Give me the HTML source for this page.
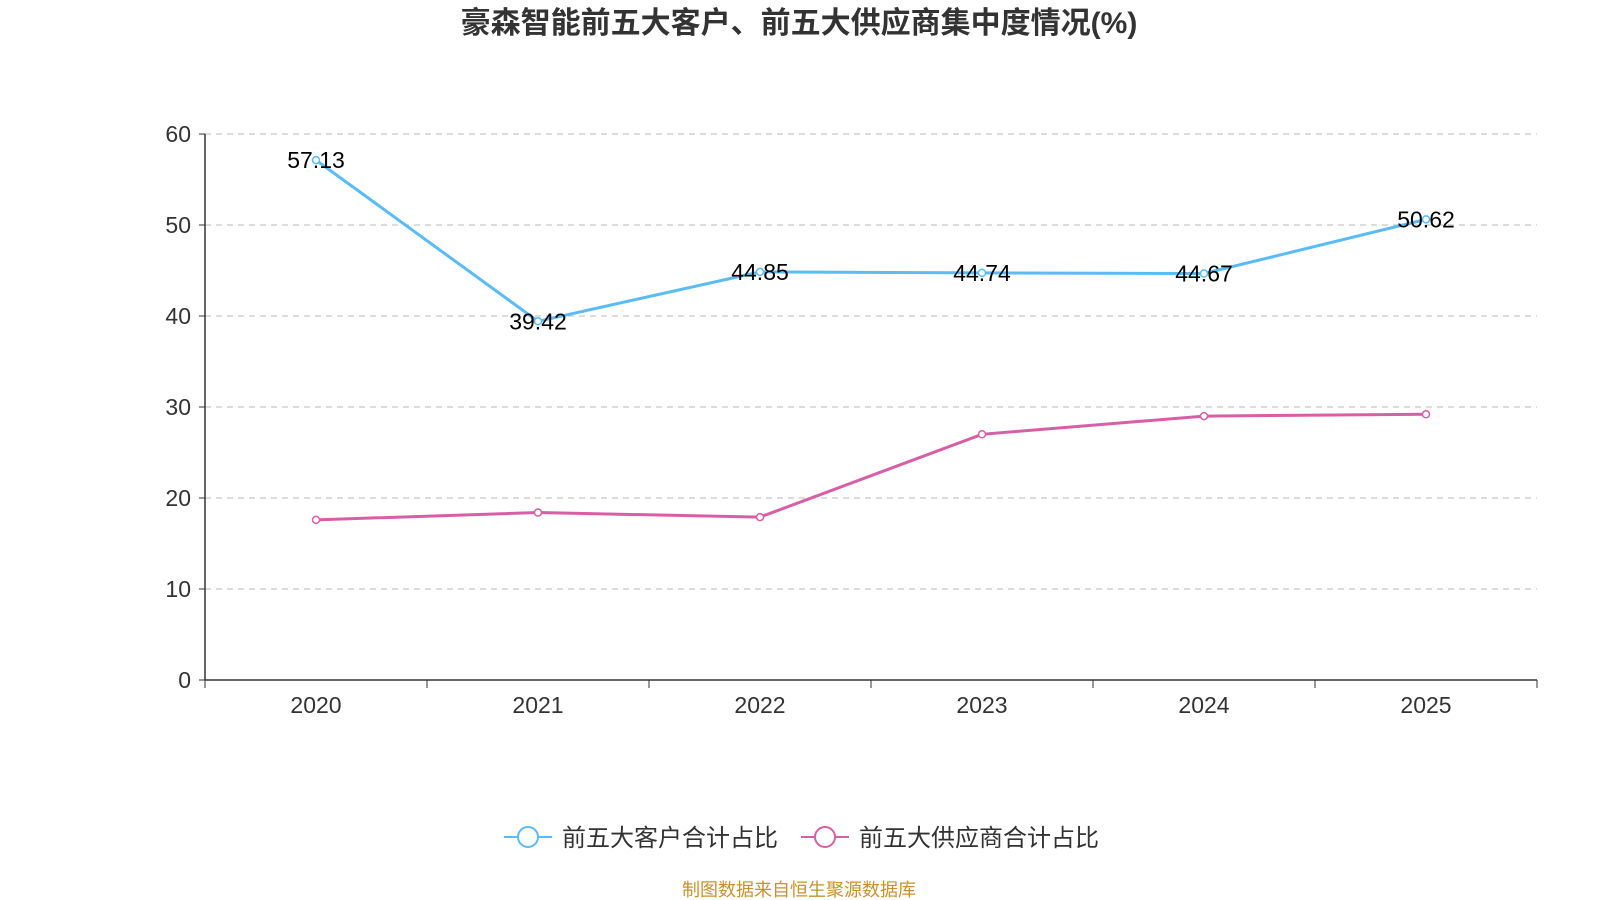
<!DOCTYPE html>
<html><head><meta charset="utf-8">
<style>
html,body{margin:0;padding:0;background:#fff;}
svg{display:block;font-family:"Liberation Sans","Noto Sans CJK SC",sans-serif;}
</style></head>
<body>
<svg id="chart" width="1600" height="900" viewBox="0 0 1600 900">
<text x="799" y="33" text-anchor="middle" font-size="30" font-weight="bold" fill="#333">豪森智能前五大客户、前五大供应商集中度情况(%)</text>
<g id="grid"></g>
<g id="axes"></g>
<g id="series"></g>
<g id="legend">
  <g>
    <line x1="504" y1="837" x2="552" y2="837" stroke="#5bbcf5" stroke-width="2"/>
    <circle cx="528" cy="837" r="10" fill="#fff" stroke="#5bbcf5" stroke-width="2"/>
    <text x="562" y="846" font-size="24" fill="#333">前五大客户合计占比</text>
  </g>
  <g>
    <line x1="801" y1="837" x2="849" y2="837" stroke="#d85fa6" stroke-width="2"/>
    <circle cx="825" cy="837" r="10" fill="#fff" stroke="#d85fa6" stroke-width="2"/>
    <text x="859" y="846" font-size="24" fill="#333">前五大供应商合计占比</text>
  </g>
</g>
<text x="799" y="896" text-anchor="middle" font-size="18" fill="#c8922a">制图数据来自恒生聚源数据库</text>
</svg>
<script>
const categories = ["2020","2021","2022","2023","2024","2025"];
const customerValues = [57.13,39.42,44.85,44.74,44.67,50.62];
const supplierValues = [17.6,18.4,17.9,27.0,29.0,29.2];
const yTicks = [0,10,20,30,40,50,60];

const NS="http://www.w3.org/2000/svg";
const L=205,R=1537,T=134,B=680,yMax=60;
const x=i=>L+(R-L)/categories.length*(i+0.5);
const y=v=>B-(B-T)*v/yMax;
function mk(tag,attrs,parent,text){const e=document.createElementNS(NS,tag);for(const k in attrs)e.setAttribute(k,attrs[k]);if(text!==undefined)e.textContent=text;parent.appendChild(e);return e;}
const grid=document.getElementById('grid'),axes=document.getElementById('axes'),series=document.getElementById('series');
yTicks.forEach(t=>{
  if(t>0){const g=mk('line',{x1:L,x2:R,y1:y(t),y2:y(t),stroke:'#c8c8c8','stroke-dasharray':'6,5','stroke-width':1.2},grid);
  
  }
  const tk=mk('line',{x1:L-6,x2:L,y1:y(t),y2:y(t),stroke:'#333'},axes);
  
  
  const lb=mk('text',{x:L-14,y:y(t)+8,'text-anchor':'end','font-size':23,fill:'#333'},axes,t);
  
  
});
const ya=mk('line',{x1:L,x2:L,y1:T,y2:B,stroke:'#333','stroke-width':1.5},axes);


const xa=mk('line',{x1:L,x2:R,y1:B,y2:B,stroke:'#333','stroke-width':1.5},axes);


for(let i=0;i<=categories.length;i++){
  const xx=L+(R-L)/categories.length*i;
  const tk=mk('line',{x1:xx,x2:xx,y1:B,y2:B+8,stroke:'#333'},axes);
  
  
}
categories.forEach((c,i)=>{
  const lb=mk('text',{x:x(i),y:B+33,'text-anchor':'middle','font-size':23,fill:'#333'},axes,c);
  
  
});
function drawSeries(vals,color,name,labels){
  const p=mk('polyline',{points:vals.map((v,i)=>x(i)+','+y(v)).join(' '),fill:'none',stroke:color,'stroke-width':3},series);
  
  
  vals.forEach((v,i)=>{
    const c=mk('circle',{cx:x(i),cy:y(v),r:3.5,fill:'#fff',stroke:color,'stroke-width':1.5},series);
    
    
    if(labels){
      const t=mk('text',{x:x(i),y:y(v)+8,'text-anchor':'middle','font-size':23,fill:'#000'},series,v.toFixed(2));
      
      
    }
  });
}
drawSeries(supplierValues,'#d85fa6','suppliers',false);
drawSeries(customerValues,'#5bbcf5','customers',true);
</script>
</body></html>
